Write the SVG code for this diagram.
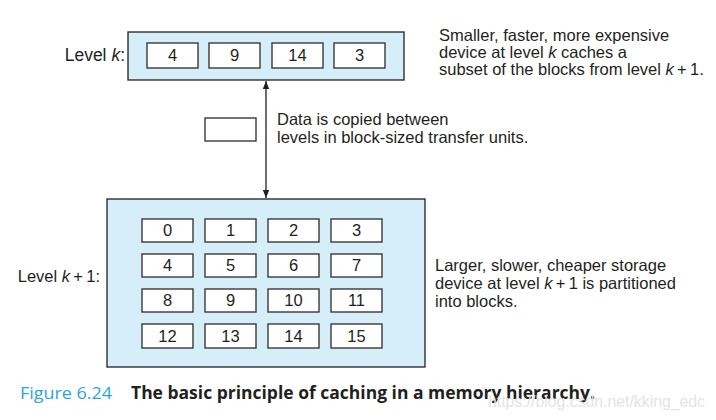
<svg xmlns="http://www.w3.org/2000/svg" width="716" height="420" viewBox="0 0 716 420">
<defs>
<style>
.lvl{fill:#d5eef9;stroke:#231f20;stroke-width:1.3}
.cell{fill:#fff;stroke:#3a3a3a;stroke-width:1.4}
.t{font-family:"Liberation Sans",Arial,sans-serif;font-size:16.5px;fill:#231f20}
.c{text-anchor:middle}
.cap{font-family:"Open Sans","Noto Sans",sans-serif;font-size:17px}
</style>
<marker id="ah" viewBox="0 0 8 8" refX="8" refY="4" markerWidth="8" markerHeight="8" markerUnits="userSpaceOnUse" orient="auto-start-reverse">
<path d="M0,0.8 L8,4 L0,7.2 Z" fill="#231f20"/>
</marker>
</defs>
<rect width="716" height="420" fill="#fff"/>

<g id="levelk">
<rect class="lvl" x="128" y="32" width="276" height="48"/>
<text class="t" x="125" y="61" text-anchor="end" style="font-size:17.5px">Level <tspan font-style="italic">k</tspan>:</text>
<rect class="cell" x="147" y="43" width="51" height="25"/><text class="t c" x="172.5" y="61">4</text>
<rect class="cell" x="209" y="43" width="51" height="25"/><text class="t c" x="234.5" y="61">9</text>
<rect class="cell" x="272" y="43" width="51" height="25"/><text class="t c" x="297.5" y="61">14</text>
<rect class="cell" x="334" y="43" width="51" height="25"/><text class="t c" x="359.5" y="61">3</text>
</g>

<g id="levelk1">
<rect class="lvl" x="107" y="199" width="318" height="168"/>
<text class="t" x="100" y="282" text-anchor="end">Level <tspan font-style="italic">k</tspan>&#8201;+&#8201;1:</text>
<rect class="cell" x="142" y="219" width="51" height="23"/><text class="t c" x="167.5" y="236">0</text>
<rect class="cell" x="205" y="219" width="51" height="23"/><text class="t c" x="230.5" y="236">1</text>
<rect class="cell" x="268" y="219" width="51" height="23"/><text class="t c" x="293.5" y="236">2</text>
<rect class="cell" x="331" y="219" width="51" height="23"/><text class="t c" x="356.5" y="236">3</text>
<rect class="cell" x="142" y="254" width="51" height="23"/><text class="t c" x="167.5" y="271">4</text>
<rect class="cell" x="205" y="254" width="51" height="23"/><text class="t c" x="230.5" y="271">5</text>
<rect class="cell" x="268" y="254" width="51" height="23"/><text class="t c" x="293.5" y="271">6</text>
<rect class="cell" x="331" y="254" width="51" height="23"/><text class="t c" x="356.5" y="271">7</text>
<rect class="cell" x="142" y="289" width="51" height="23"/><text class="t c" x="167.5" y="306">8</text>
<rect class="cell" x="205" y="289" width="51" height="23"/><text class="t c" x="230.5" y="306">9</text>
<rect class="cell" x="268" y="289" width="51" height="23"/><text class="t c" x="293.5" y="306">10</text>
<rect class="cell" x="331" y="289" width="51" height="23"/><text class="t c" x="356.5" y="306">11</text>
<rect class="cell" x="142" y="324" width="51" height="24"/><text class="t c" x="167.5" y="342">12</text>
<rect class="cell" x="205" y="324" width="51" height="24"/><text class="t c" x="230.5" y="342">13</text>
<rect class="cell" x="268" y="324" width="51" height="24"/><text class="t c" x="293.5" y="342">14</text>
<rect class="cell" x="331" y="324" width="51" height="24"/><text class="t c" x="356.5" y="342">15</text>
</g>

<g id="transfer">
<rect class="cell" x="205" y="118" width="51" height="23"/>
<text class="t" x="277" y="125">Data is copied between</text>
<text class="t" x="277" y="143">levels in block-sized transfer units.</text>
</g>

<g id="connectors">
<line x1="266" y1="81" x2="266" y2="198" stroke="#231f20" stroke-width="1.3" marker-start="url(#ah)" marker-end="url(#ah)"/>
</g>

<g id="notes">
<text class="t" x="439" y="41">Smaller, faster, more expensive</text>
<text class="t" x="439" y="58">device at level <tspan font-style="italic">k</tspan> caches a</text>
<text class="t" x="439" y="75">subset of the blocks from level <tspan font-style="italic">k</tspan>&#8201;+&#8201;1.</text>
<text class="t" x="435" y="271">Larger, slower, cheaper storage</text>
<text class="t" x="435" y="289">device at level <tspan font-style="italic">k</tspan>&#8201;+&#8201;1 is partitioned</text>
<text class="t" x="435" y="307">into blocks.</text>
</g>

<g id="caption">
<text class="cap" x="20" y="399" fill="#2aa6df" textLength="92" lengthAdjust="spacingAndGlyphs">Figure 6.24</text>
<text class="cap" x="131" y="399" fill="#231f20" font-weight="bold" textLength="464" lengthAdjust="spacingAndGlyphs">The basic principle of caching in a memory hierarchy.</text>
<text x="488" y="407" font-family="'Liberation Sans',Arial,sans-serif" font-size="17" fill="#e4e4e4" textLength="217" lengthAdjust="spacingAndGlyphs">https://blog.csdn.net/kking_edc</text>
</g>
</svg>
